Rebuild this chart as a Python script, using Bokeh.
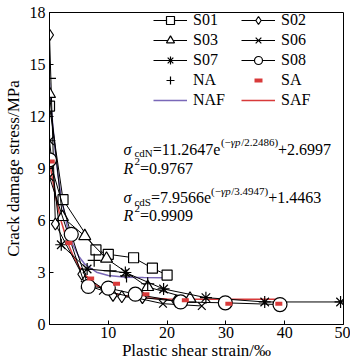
from bokeh.plotting import figure
from bokeh.models import Range1d, FixedTicker, Legend, LegendItem
from bokeh.core.properties import value
from bokeh.embed import file_html
from bokeh.resources import INLINE

FONT = "Liberation Serif"

# ---- data ----
s01_x = [0.0, 2.3, 7.9, 10.0, 14.3, 17.5, 20.0]
s01_y = [12.6, 7.2, 4.3, 4.05, 3.85, 3.25, 2.85]
s02_x = [0.0, 1.0, 5.5, 10.8, 12.3, 15.8, 21.5]
s02_y = [16.7, 5.8, 2.9, 1.68, 1.6, 1.55, 1.35]
s03_x = [0.0, 2.2, 6.0, 9.7, 16.7, 23.9]
s03_y = [13.3, 6.2, 5.1, 3.8, 2.16, 1.49]
s06_x = [0.0, 6.0, 9.1, 19.3, 25.9]
s06_y = [8.5, 2.3, 1.95, 1.2, 1.07]
s07_x = [0.0, 2.0, 6.4, 12.9, 19.4, 26.6, 36.6, 49.5]
s07_y = [10.6, 4.6, 3.2, 3.0, 2.05, 1.55, 1.3, 1.3]
s08_x = [0.0, 3.7, 6.6, 10.0, 14.6, 22.3, 29.9, 39.2]
s08_y = [9.5, 5.2, 2.2, 2.1, 1.75, 1.3, 1.25, 1.15]
na_x = [0.0, 7.6, 10.3, 13.1, 16.7]
na_y = [14.2, 3.7, 3.1, 2.8, 2.35]
sa_x = [0.3, 3.3, 7.0, 11.4, 16.4, 23.1, 30.5, 39.0]
sa_y = [9.4, 4.7, 2.65, 2.35, 1.75, 1.4, 1.2, 1.2]
# fitted curves
naf_x = [0, 0.5, 1, 1.5, 2, 3, 4, 5, 6, 8, 10, 13, 16, 19.5]
naf_y = [13.96, 11.72, 9.92, 8.48, 7.33, 5.67, 4.60, 3.92, 3.48, 3.02, 2.83, 2.73, 2.71, 2.70]
saf_x = [0, 1, 2, 3, 4, 5, 6, 8, 10, 12, 15, 20, 25, 30, 39]
saf_y = [9.40, 7.42, 5.94, 4.82, 3.98, 3.35, 2.88, 2.25, 1.90, 1.70, 1.56, 1.47, 1.45, 1.45, 1.45]

x_ticks = [10, 20, 30, 40, 50]
y_ticks = [0, 3, 6, 9, 12, 15, 18]

PURPLE = "#7a68b8"
RED = "#d83a3a"

p = figure(width=350, height=362, output_backend="svg", toolbar_location=None,
           x_range=Range1d(0, 50), y_range=Range1d(0, 18),
           min_border_left=43, min_border_right=7, min_border_top=12, min_border_bottom=36)
p.xgrid.visible = False
p.ygrid.visible = False
p.outline_line_color = "black"
p.outline_line_width = 1
p.background_fill_color = "white"
p.border_fill_color = "white"

for ax in (p.xaxis[0], p.yaxis[0]):
    ax.major_tick_in = 4
    ax.major_tick_out = 0
    ax.minor_tick_line_color = None
    ax.axis_line_color = "black"
    ax.major_tick_line_color = "black"
    ax.major_label_text_font = FONT
    ax.major_label_text_font_size = "16px"
    ax.major_label_text_color = "black"
    ax.axis_label_text_font = FONT
    ax.axis_label_text_font_size = "17px"
    ax.axis_label_text_font_style = "normal"
    ax.axis_label_text_color = "black"
p.xaxis.ticker = FixedTicker(ticks=x_ticks)
p.yaxis.ticker = FixedTicker(ticks=y_ticks)
p.xaxis.axis_label = "Plastic shear strain/‰"
p.yaxis.axis_label = "Crack damage stress/MPa"
p.xaxis.major_label_standoff = 2
p.xaxis.axis_label_standoff = 0
p.yaxis.major_label_standoff = 4
p.yaxis.axis_label_standoff = 4


def series(x, y, marker, label, size):
    l = p.line(x, y, line_color="black", line_width=1)
    s = p.scatter(x, y, marker=marker, size=size, fill_color="white",
                  line_color="black", line_width=1.2)
    return LegendItem(label=label, renderers=[l, s])


naf = p.line(naf_x, naf_y, line_color=PURPLE, line_width=1.5)
saf = p.line(saf_x, saf_y, line_color=RED, line_width=1.5)

it_s01 = series(s01_x, s01_y, "square", "S01", 10)
it_s02 = series(s02_x, s02_y, "diamond", "S02", 12)
it_s03 = series(s03_x, s03_y, "triangle", "S03", 12)
it_s06 = series(s06_x, s06_y, "x", "S06", 11)
it_s07 = series(s07_x, s07_y, "asterisk", "S07", 12)
it_s08 = series(s08_x, s08_y, "circle", "S08", 14)
na = p.scatter(na_x, na_y, marker="cross", size=13, line_color="black", line_width=1.2)
sa = p.scatter(sa_x, sa_y, marker="dash", size=7, line_color=RED, line_width=4, line_cap="butt")

legend = Legend(items=[it_s01, it_s02, it_s03, it_s06, it_s07, it_s08,
                       LegendItem(label="NA", renderers=[na]),
                       LegendItem(label="SA", renderers=[sa]),
                       LegendItem(label="NAF", renderers=[naf]),
                       LegendItem(label="SAF", renderers=[saf])],
                location=(104, 214), orientation="horizontal", ncols=2,
                glyph_width=34, glyph_height=20, label_height=20, label_width=48,
                label_standoff=6, spacing=0, padding=0, margin=0,
                border_line_alpha=0, background_fill_alpha=0,
                label_text_font=FONT, label_text_font_size="16px",
                label_text_color="black")
p.add_layout(legend)

# ---- equations as rich text pieces ----
W = {'0': .5, '1': .5, '2': .5, '3': .5, '4': .5, '5': .5, '6': .5, '7': .5, '8': .5, '9': .5,
     '.': .25, '=': .564, '+': .564, '−': .564, '(': .333, ')': .333, '/': .278,
     'e': .444, 'c': .444, 'd': .5, 'N': .722, 'S': .556, 'σ': .68, 'γ': .44, 'p': .5, 'R': .68}


def tw(s, size):
    return sum(W.get(c, .5) for c in s) * size


def rich(x, y, pieces):
    off = 0.0
    for txt, size, dy, italic in pieces:
        p.text(x=[x], y=[y], text=[txt], x_offset=off, y_offset=-dy,
               text_font=value(FONT), text_font_size=f"{size}px",
               text_font_style="italic" if italic else "normal",
               text_baseline="alphabetic", text_align="left", text_color="black")
        off += tw(txt, size)


rich(12.6, 10.1, [("σ", 16, 0, True), ("cdN", 11, -4, False), ("=11.2647e", 16, 0, False),
                  ("(−", 11, 7, False), ("γp", 11, 7, True), ("/2.2486)", 11, 7, False),
                  ("+2.6997", 16, 0, False)])
rich(12.6, 9.0, [("R", 16, 0, True), ("2", 11, 7, False), ("=0.9767", 16, 0, False)])
rich(12.6, 7.3, [("σ", 16, 0, True), ("cdS", 11, -4, False), ("=7.9566e", 16, 0, False),
                 ("(−", 11, 7, False), ("γp", 11, 7, True), ("/3.4947)", 11, 7, False),
                 ("+1.4463", 16, 0, False)])
rich(12.6, 6.3, [("R", 16, 0, True), ("2", 11, 7, False), ("=0.9909", 16, 0, False)])

open("out.html", "w").write(file_html(p, INLINE))
